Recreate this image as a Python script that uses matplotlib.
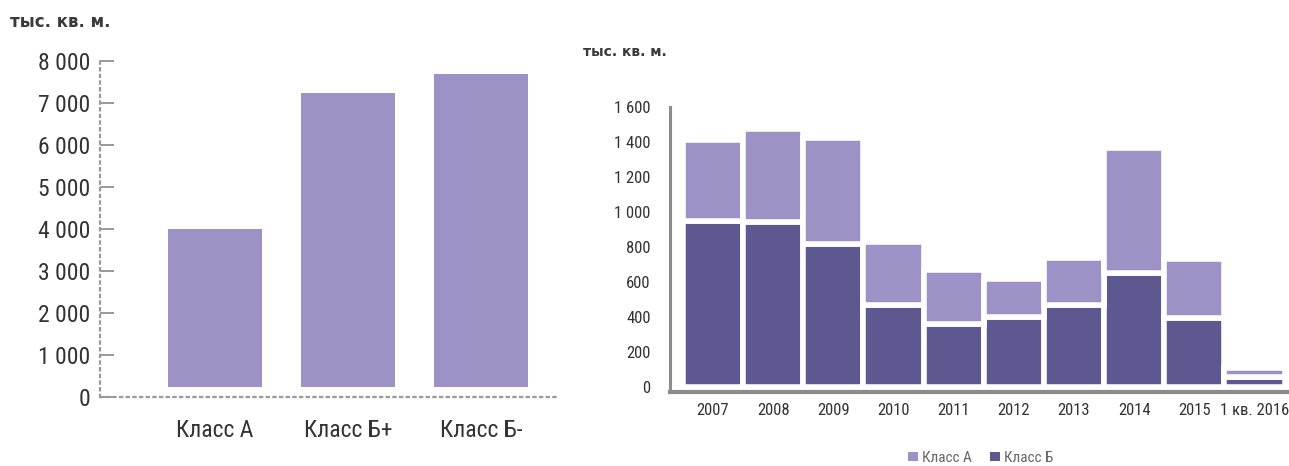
import numpy as np
import matplotlib
matplotlib.use("Agg")
import matplotlib.pyplot as plt
from matplotlib import font_manager

# Left chart: stock by class, thousand sq. m
classes = ["Класс А", "Класс Б+", "Класс Б-"]
stock = [4000, 7230, 7700]
stock_ticks = [0, 1000, 2000, 3000, 4000, 5000, 6000, 7000, 8000]

# Right chart: new supply by year, thousand sq. m
years = ["2007", "2008", "2009", "2010", "2011", "2012", "2013", "2014", "2015", "1 кв. 2016"]
class_b = [950, 945, 815, 470, 360, 400, 470, 650, 395, 55]
class_a = [460, 530, 610, 360, 310, 215, 265, 715, 335, 55]
supply_ticks = [0, 200, 400, 600, 800, 1000, 1200, 1400, 1600]

unit_label = "тыс. кв. м."

LIGHT = "#9d91c5"
DARK = "#5e5890"
AXIS_GRAY = "#8c8c8c"
TEXT = "#333333"


def pick_font(candidates):
    names = {f.name for f in font_manager.fontManager.ttflist}
    for name in candidates:
        if name in names:
            return name
    return "DejaVu Sans"


narrow = pick_font(["Liberation Sans Narrow", "Roboto Condensed", "DejaVu Sans Condensed", "Liberation Sans"])


def fmt_thousands(v):
    return f"{int(v):,}".replace(",", " ")


fig = plt.figure(figsize=(12.89, 4.66), dpi=100)

# ---- left chart ----
ax1 = fig.add_axes([100 / 1289, 69 / 466, 457 / 1289, 336 / 466])
x1 = np.arange(len(classes))
lift = 240  # small gap between bar bottoms and the dotted base line
ax1.bar(x1, np.array(stock) - lift, bottom=lift, width=0.71, color=LIGHT, linewidth=0)
ax1.set_xlim(-0.865, 2.57)
ax1.set_ylim(0, 8000)
ax1.set_yticks(stock_ticks)
ax1.set_yticklabels([fmt_thousands(v) for v in stock_ticks])
ax1.set_xticks(x1)
ax1.set_xticklabels(classes)
for s in ["top", "right"]:
    ax1.spines[s].set_visible(False)
for s in ["left", "bottom"]:
    ax1.spines[s].set_color("#9a9a9a")
    ax1.spines[s].set_linewidth(1.6)
    ax1.spines[s].set_linestyle((0, (1, 2)))
ax1.tick_params(axis="y", direction="in", length=10, width=1.2, color="#888888",
                pad=7, labelsize=17, labelcolor=TEXT)
ax1.tick_params(axis="x", length=0, pad=16, labelsize=17, labelcolor=TEXT)
for lab in ax1.get_xticklabels() + ax1.get_yticklabels():
    lab.set_fontfamily(narrow)
fig.text(10 / 1289, 1 - 22 / 466, unit_label, fontsize=12, fontweight="bold",
         color="#3a3a3a", va="center", ha="left")

# ---- right chart ----
ax2 = fig.add_axes([670 / 1289, 74 / 466, 619 / 1289, 285 / 466])
x2 = np.arange(len(years))
ax2.bar(x2, class_b, width=1.0, color=DARK, edgecolor="white", linewidth=4, label="Класс Б")
ax2.bar(x2, class_a, bottom=class_b, width=1.0, color=LIGHT, edgecolor="white",
        linewidth=4, label="Класс А")
ax2.set_xlim(-0.715, 9.574)
ax2.set_ylim(-29, 1600)
ax2.set_yticks(supply_ticks)
ax2.set_yticklabels([fmt_thousands(v) for v in supply_ticks])
ax2.set_xticks(x2)
ax2.set_xticklabels(years)
for s in ["top", "right"]:
    ax2.spines[s].set_visible(False)
ax2.spines["left"].set_color(AXIS_GRAY)
ax2.spines["left"].set_linewidth(2.2)
ax2.spines["bottom"].set_color(AXIS_GRAY)
ax2.spines["bottom"].set_linewidth(3)
ax2.tick_params(axis="y", length=0, pad=14, labelsize=12, labelcolor=TEXT)
ax2.tick_params(axis="x", length=0, pad=8, labelsize=12, labelcolor=TEXT)
for lab in ax2.get_xticklabels() + ax2.get_yticklabels():
    lab.set_fontfamily(narrow)
fig.text(583 / 1289, 1 - 52 / 466, unit_label, fontsize=10, fontweight="bold",
         color="#3a3a3a", va="center", ha="left")

handles, labels = ax2.get_legend_handles_labels()
leg = fig.legend(handles[::-1], labels[::-1], loc="center", bbox_to_anchor=(981 / 1289, 1 - 458 / 466),
                 ncol=2, frameon=False, handlelength=0.6, handleheight=0.6, handletextpad=0.3,
                 columnspacing=1.2, prop={"family": narrow, "size": 11})
for t in leg.get_texts():
    t.set_color("#666666")
for h in leg.legend_handles:
    h.set_linewidth(0)

fig.savefig("out.png", dpi=100)
